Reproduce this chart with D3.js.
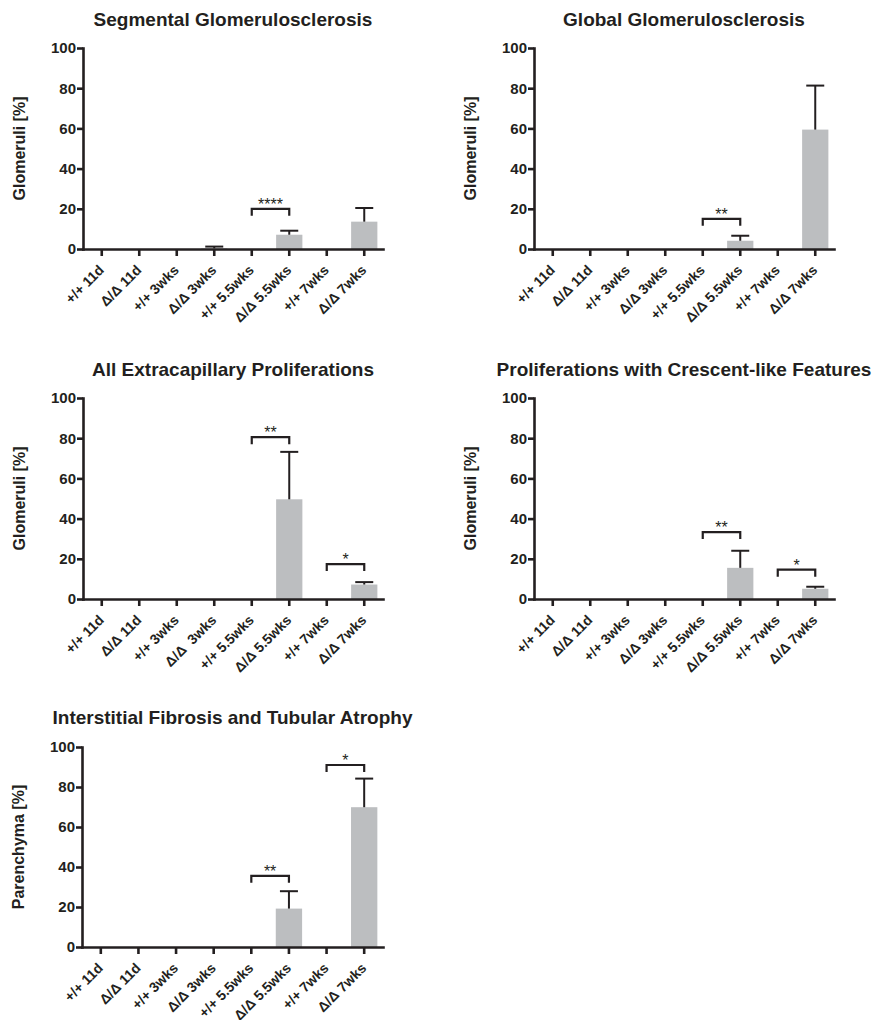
<!DOCTYPE html>
<html>
<head>
<meta charset="utf-8">
<script src="https://cdn.jsdelivr.net/npm/d3@7"></script>
<style>
  body { margin: 0; background: #fff; }
  svg text { font-family: "Liberation Sans", Arial, Helvetica, sans-serif; }
  .label { font-weight: bold; fill: #231f20; }
</style>
</head>
<body>
<div id="chart"></div>
<script>
const categories = ["+/+ 11d", "Δ/Δ 11d", "+/+ 3wks", "Δ/Δ 3wks", "+/+ 5.5wks", "Δ/Δ 5.5wks", "+/+ 7wks", "Δ/Δ 7wks"];
const categoriesExtra = ["+/+ 11d", "Δ/Δ 11d", "+/+ 3wks", "Δ/Δ  3wks", "+/+ 5.5wks", "Δ/Δ 5.5wks", "+/+ 7wks", "Δ/Δ 7wks"];
const yTicks = [0, 20, 40, 60, 80, 100];

const segmentalMean = [0, 0, 0, 0.3, 0, 7.1, 0, 13.6];
const segmentalErr  = [0, 0, 0, 0.9, 0, 2.0, 0, 6.8];
const globalMean    = [0, 0, 0, 0, 0, 4.1, 0, 59.4];
const globalErr     = [0, 0, 0, 0, 0, 2.5, 0, 21.9];
const extracapMean  = [0, 0, 0, 0, 0, 49.6, 0, 7.2];
const extracapErr   = [0, 0, 0, 0, 0, 23.6, 0, 1.2];
const crescentMean  = [0, 0, 0, 0, 0, 15.5, 0, 5.1];
const crescentErr   = [0, 0, 0, 0, 0, 8.5, 0, 1.0];
const iftaMean      = [0, 0, 0, 0, 0, 19.2, 0, 69.9];
const iftaErr       = [0, 0, 0, 0, 0, 8.7, 0, 14.3];

// [from index, to index, stars, bracket height in %]
const segmentalSig = [[4, 5, "****", 20]];
const globalSig    = [[4, 5, "**", 15]];
const extracapSig  = [[4, 5, "**", 80.5], [6, 7, "*", 17.4]];
const crescentSig  = [[4, 5, "**", 33.3], [6, 7, "*", 14.6]];
const iftaSig      = [[4, 5, "**", 35.6], [6, 7, "*", 91]];

const ink = "#231f20";
const barColor = "#bcbec0";

const svg = d3.select("#chart").append("svg")
    .attr("width", 876)
    .attr("height", 1020);

const panel = (opts) => {
    const { title, yLabel, cats, mean, err, sig, left, right, top, bottom, titleY } = opts;

    const x = d3.scaleBand()
        .domain(d3.range(cats.length))
        .range([left, right])
        .paddingInner(0.3)
        .paddingOuter(0.15);

    const y = d3.scaleLinear()
        .domain([0, 100])
        .range([bottom, top]);

    const g = svg.append("g");

    g.append("text")
        .attr("class", "label")
        .attr("x", (left + right) / 2 - 0)
        .attr("y", titleY)
        .attr("text-anchor", "middle")
        .attr("font-size", 19)
        .text(title);

    g.append("text")
        .attr("class", "label")
        .attr("transform", `translate(${left - 58},${(top + bottom) / 2}) rotate(-90)`)
        .attr("text-anchor", "middle")
        .attr("font-size", 16)
        .text(yLabel);

    // bars
    g.append("g")
        .attr("fill", barColor)
        .selectAll("rect")
        .data(mean)
        .join("rect")
        .attr("x", (d, i) => x(i))
        .attr("y", d => y(d))
        .attr("width", x.bandwidth())
        .attr("height", d => y(0) - y(d));

    // upper error bars
    const eb = g.append("g")
        .attr("stroke", ink)
        .attr("stroke-width", 2)
        .selectAll("g")
        .data(mean.map((m, i) => ({ m, e: err[i], i })).filter(d => d.e > 0))
        .join("g");
    eb.append("line")
        .attr("x1", d => x(d.i) + x.bandwidth() / 2)
        .attr("x2", d => x(d.i) + x.bandwidth() / 2)
        .attr("y1", d => y(d.m))
        .attr("y2", d => y(d.m + d.e));
    eb.append("line")
        .attr("x1", d => x(d.i) + x.bandwidth() / 2 - 9)
        .attr("x2", d => x(d.i) + x.bandwidth() / 2 + 9)
        .attr("y1", d => y(d.m + d.e))
        .attr("y2", d => y(d.m + d.e));

    // significance brackets
    const sg = g.append("g")
        .selectAll("g")
        .data(sig)
        .join("g");
    sg.append("path")
        .attr("fill", "none")
        .attr("stroke", ink)
        .attr("stroke-width", 2.2)
        .attr("d", d => {
            const x1 = x(d[0]) + x.bandwidth() / 2;
            const x2 = x(d[1]) + x.bandwidth() / 2;
            const yy = y(d[3]);
            return `M${x1},${yy + 7}V${yy}H${x2}V${yy + 7}`;
        });
    sg.append("text")
        .attr("x", d => (x(d[0]) + x(d[1])) / 2 + x.bandwidth() / 2)
        .attr("y", d => y(d[3]) + 1)
        .attr("text-anchor", "middle")
        .attr("font-size", 16)
        .attr("fill", ink)
        .text(d => d[2]);

    // axes
    const yAxis = g.append("g")
        .attr("transform", `translate(${left},0)`)
        .call(d3.axisLeft(y).tickValues(yTicks).tickSize(6).tickSizeOuter(0).tickPadding(1));
    const xAxis = g.append("g")
        .attr("transform", `translate(0,${bottom})`)
        .call(d3.axisBottom(x).tickSize(7).tickSizeOuter(0).tickFormat(i => cats[i]));

    [xAxis, yAxis].forEach(a => {
        a.attr("font-family", null).attr("font-size", null);
        a.selectAll("path, line")
            .attr("stroke", ink)
            .attr("stroke-width", 2.6);
        a.select(".domain").attr("stroke-linecap", "square");
    });
    yAxis.selectAll(".tick text")
        .attr("class", "label")
        .attr("font-size", 15);
    xAxis.selectAll(".tick text")
        .attr("class", "label")
        .attr("font-size", 14)
        .style("white-space", "pre")
        .attr("text-anchor", "end")
        .attr("dy", null)
        .attr("y", 0)
        .attr("transform", "translate(3,22) rotate(-45)");
};

panel({ title: "Segmental Glomerulosclerosis", yLabel: "Glomeruli [%]", cats: categories,
    mean: segmentalMean, err: segmentalErr, sig: segmentalSig,
    left: 83, right: 383, top: 48, bottom: 249, titleY: 26 });
panel({ title: "Global Glomerulosclerosis", yLabel: "Glomeruli [%]", cats: categories,
    mean: globalMean, err: globalErr, sig: globalSig,
    left: 534, right: 834, top: 48, bottom: 249, titleY: 26 });
panel({ title: "All Extracapillary Proliferations", yLabel: "Glomeruli [%]", cats: categoriesExtra,
    mean: extracapMean, err: extracapErr, sig: extracapSig,
    left: 83, right: 383, top: 398, bottom: 599, titleY: 376 });
panel({ title: "Proliferations with Crescent-like Features", yLabel: "Glomeruli [%]", cats: categories,
    mean: crescentMean, err: crescentErr, sig: crescentSig,
    left: 534, right: 834, top: 398, bottom: 599, titleY: 376 });
panel({ title: "Interstitial Fibrosis and Tubular Atrophy", yLabel: "Parenchyma [%]", cats: categories,
    mean: iftaMean, err: iftaErr, sig: iftaSig,
    left: 82, right: 383, top: 747, bottom: 947, titleY: 724 });
</script>
</body>
</html>
